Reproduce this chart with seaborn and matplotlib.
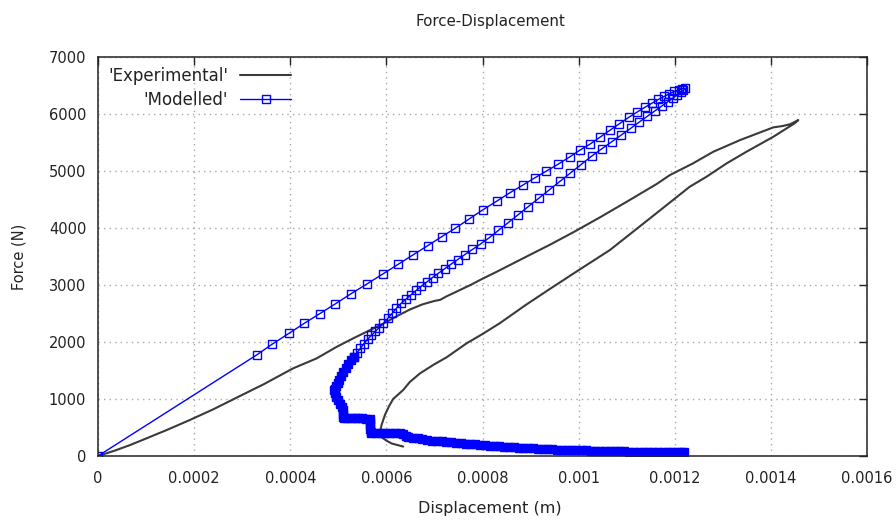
import numpy as np
import matplotlib
matplotlib.use("Agg")
import matplotlib.pyplot as plt
import seaborn as sns

# ---------------- data ----------------
# Experimental force-displacement loop
exp_x = [0.0, 0.000035, 0.000067, 0.000101, 0.000143, 0.000191, 0.000240, 0.000290,
         0.000345, 0.000406, 0.000455, 0.000497, 0.000531, 0.000559, 0.000593, 0.000621,
         0.000649, 0.000675, 0.000700, 0.000712, 0.000725, 0.000750, 0.000775, 0.000800,
         0.000830, 0.000857, 0.000900, 0.000940, 0.000990, 0.001044, 0.001100, 0.001162,
         0.001190, 0.001238, 0.001280, 0.001336, 0.001405, 0.001425, 0.001440, 0.001457,
         0.001450, 0.001405, 0.001349, 0.001308, 0.001266, 0.001231, 0.001200, 0.001150,
         0.001065, 0.001000, 0.000940, 0.000890, 0.000836, 0.000800, 0.000767, 0.000725,
         0.000698, 0.000670, 0.000649, 0.000635, 0.000614, 0.000605, 0.000597, 0.000590,
         0.000587, 0.000590, 0.000600, 0.000611, 0.000635]
exp_f = [0, 95, 193, 310, 456, 631, 820, 1030,
         1260, 1538, 1713, 1917, 2064, 2180, 2320, 2450,
         2570, 2660, 2720, 2740, 2800, 2900, 3000, 3110,
         3234, 3350, 3535, 3705, 3930, 4185, 4460, 4770,
         4929, 5134, 5337, 5543, 5765, 5790, 5820, 5893,
         5840, 5600, 5337, 5134, 4899, 4723, 4515, 4180,
         3613, 3260, 2930, 2650, 2330, 2140, 1977, 1730,
         1600, 1450, 1300, 1158, 1000, 865, 720, 544,
         430, 330, 270, 220, 165]

# Modelled: loading branch
mod_load_x = [0.0, 0.000330, 0.000363, 0.000397, 0.000429, 0.000462, 0.000494, 0.000527,
              0.000559, 0.000592, 0.000624, 0.000655, 0.000686, 0.000715, 0.000743, 0.000772,
              0.000800, 0.000830, 0.000857, 0.000884, 0.000909, 0.000933, 0.000958, 0.000982,
              0.001003, 0.001024, 0.001045, 0.001065, 0.001085, 0.001104, 0.001122, 0.001138,
              0.001153, 0.001166, 0.001178, 0.001189, 0.001199, 0.001208, 0.001215, 0.001222]
mod_load_f = [0, 1772, 1965, 2150, 2327, 2500, 2670, 2850,
              3015, 3190, 3360, 3526, 3690, 3847, 3994, 4157,
              4315, 4473, 4618, 4753, 4881, 4999, 5122, 5250,
              5367, 5473, 5596, 5714, 5830, 5940, 6035, 6118,
              6192, 6256, 6308, 6355, 6395, 6424, 6440, 6450]

# Modelled: unloading branch
mod_unload_x = [0.001218, 0.001212, 0.001205, 0.001197, 0.001186, 0.001173, 0.001159, 0.001143,
                0.001126, 0.001108, 0.001089, 0.001069, 0.001048, 0.001027, 0.001005, 0.000983,
                0.000961, 0.000939, 0.000917, 0.000895, 0.000874, 0.000853, 0.000833, 0.000814,
                0.000796, 0.000779, 0.000763, 0.000748, 0.000734, 0.000721, 0.000708, 0.000696,
                0.000684, 0.000673, 0.000662, 0.000651, 0.000641, 0.000631, 0.000621, 0.000612,
                0.000603, 0.000594, 0.000585, 0.000577, 0.000569, 0.000561, 0.000553, 0.000546,
                0.000539, 0.000532]
mod_unload_f = [6415, 6380, 6335, 6283, 6217, 6140, 6056, 5960,
                5858, 5746, 5633, 5513, 5388, 5260, 5113, 4965,
                4817, 4669, 4521, 4374, 4232, 4091, 3957, 3829,
                3720, 3623, 3532, 3444, 3362, 3284, 3205, 3131,
                3052, 2979, 2905, 2826, 2754, 2682, 2592, 2503,
                2415, 2327, 2252, 2185, 2118, 2052, 1968, 1890,
                1812, 1744]

# Modelled: post-peak softening tail (very dense points)
mod_tail_x = [0.000526, 0.000520, 0.000515, 0.000510, 0.000506, 0.000502, 0.000499, 0.000496,
              0.000494, 0.000492,
              0.000494, 0.000496, 0.000499, 0.000503, 0.000507, 0.000509, 0.000510, 0.000510,
              0.000511, 0.000518, 0.000526, 0.000534, 0.000542, 0.000550, 0.000558, 0.000566,
              0.000566, 0.000566, 0.000566, 0.000567, 0.000568, 0.000578, 0.000588, 0.000598,
              0.000608, 0.000618, 0.000628, 0.000635, 0.000640, 0.000645, 0.000655, 0.000665,
              0.000675, 0.000685, 0.000695, 0.000705, 0.000715, 0.000725, 0.000735, 0.000745,
              0.000755, 0.000765, 0.000775, 0.000785, 0.000795, 0.000805, 0.000815, 0.000825,
              0.000835, 0.000845, 0.000855, 0.000865, 0.000875, 0.000885, 0.000895, 0.000905,
              0.000915, 0.000925, 0.000935, 0.000945, 0.000955, 0.000965, 0.000975, 0.000985,
              0.000995, 0.001005, 0.001015, 0.001025, 0.001035, 0.001045, 0.001055, 0.001065,
              0.001075, 0.001085, 0.001095, 0.001105, 0.001115, 0.001125, 0.001135, 0.001145,
              0.001155, 0.001165, 0.001175, 0.001185, 0.001195, 0.001205, 0.001212, 0.001219]
mod_tail_f = [1689, 1616, 1548, 1480, 1410, 1340, 1283, 1220,
              1179, 1150,
              1100, 1040, 980, 920, 860, 800, 740, 690,
              661, 661, 660, 660, 659, 658, 657, 655,
              600, 540, 480, 420, 405, 405, 404, 403,
              402, 400, 398, 390, 350, 325, 318, 310,
              300, 285, 270, 262, 258, 248, 240, 232,
              226, 218, 210, 203, 196, 190, 184, 178,
              172, 166, 160, 154, 148, 142, 137, 133,
              129, 126, 122, 118, 114, 111, 108, 105,
              103, 100, 98, 96, 94, 92, 90, 88,
              86, 84, 80, 77, 76, 75, 75, 75,
              74, 74, 75, 76, 76, 75, 74, 73]

x_ticks = [0.0, 0.0002, 0.0004, 0.0006, 0.0008, 0.0010, 0.0012, 0.0014, 0.0016]
x_tick_labels = ["0", "0.0002", "0.0004", "0.0006", "0.0008", "0.001", "0.0012", "0.0014", "0.0016"]
y_ticks = [0, 1000, 2000, 3000, 4000, 5000, 6000, 7000]
y_tick_labels = ["0", "1000", "2000", "3000", "4000", "5000", "6000", "7000"]

labels = ["'Experimental'", "'Modelled'"]
title = "Force-Displacement"
x_label = "Displacement (m)"
y_label = "Force (N)"

# ---------------- plotting ----------------
sns.set_style("white")
plt.rcParams["font.family"] = ["DejaVu Sans"]
plt.rcParams["font.size"] = 10

fig, ax = plt.subplots(figsize=(8.96, 5.23), dpi=100)
fig.subplots_adjust(left=98 / 896, right=867 / 896, top=1 - 57 / 523, bottom=1 - 456 / 523)

text_col = "#222222"
blue = "#0000ff"

sns.lineplot(x=exp_x, y=exp_f, sort=False, estimator=None, ax=ax,
             color="#3a3a3a", linewidth=1.5, label=labels[0])

mod_x = np.array(mod_load_x + mod_unload_x)
mod_f = np.array(mod_load_f + mod_unload_f)
sns.lineplot(x=mod_x, y=mod_f, sort=False, estimator=None, ax=ax,
             color=blue, linewidth=1.0, marker="s", markersize=6.3,
             markerfacecolor="none", markeredgecolor=blue, markeredgewidth=1.0,
             label=labels[1])

tail_x = np.array(mod_unload_x[-1:] + mod_tail_x)
tail_f = np.array(mod_unload_f[-1:] + mod_tail_f)
sns.lineplot(x=tail_x, y=tail_f, sort=False, estimator=None, ax=ax,
             color=blue, linewidth=1.0, marker="s", markersize=6.3,
             markerfacecolor=blue, markeredgecolor=blue, markeredgewidth=1.0)

ax.set_xlim(0, 0.0016)
ax.set_ylim(0, 7000)
ax.set_xticks(x_ticks)
ax.set_xticklabels(x_tick_labels)
ax.set_yticks(y_ticks)
ax.set_yticklabels(y_tick_labels)

ax.grid(True, color="#a8a8a8", linestyle=(0, (1, 3)), linewidth=1.0)
ax.tick_params(direction="in", length=6, width=1.0, colors="#222222",
               top=True, right=True, labelsize=10.5)
ax.tick_params(axis="x", pad=11)
ax.tick_params(axis="y", pad=8.5)
for sp in ax.spines.values():
    sp.set_visible(True)
    sp.set_color("#222222")
    sp.set_linewidth(1.1)

ax.set_title(title, fontsize=10.8, color=text_col, pad=22, x=(490 - 98) / 769)
ax.set_xlabel(x_label, fontsize=11.5, color=text_col)
ax.set_ylabel(y_label, fontsize=10.5, color=text_col)
ax.xaxis.set_label_coords((490 - 98) / 769, (456 - 501) / 399)
ax.yaxis.set_label_coords((26 - 98) / 769, 0.5)

h, l = ax.get_legend_handles_labels()
leg = ax.legend(h[:2], l[:2], loc="upper left", bbox_to_anchor=(0.0, 1.0),
                frameon=False, markerfirst=False, handlelength=3.1,
                fontsize=12, labelspacing=0.38, borderaxespad=0.0, borderpad=0.6,
                handletextpad=0.7)
for t in leg.get_texts():
    t.set_color(text_col)

fig.savefig("out.png", dpi=100, facecolor="white")
